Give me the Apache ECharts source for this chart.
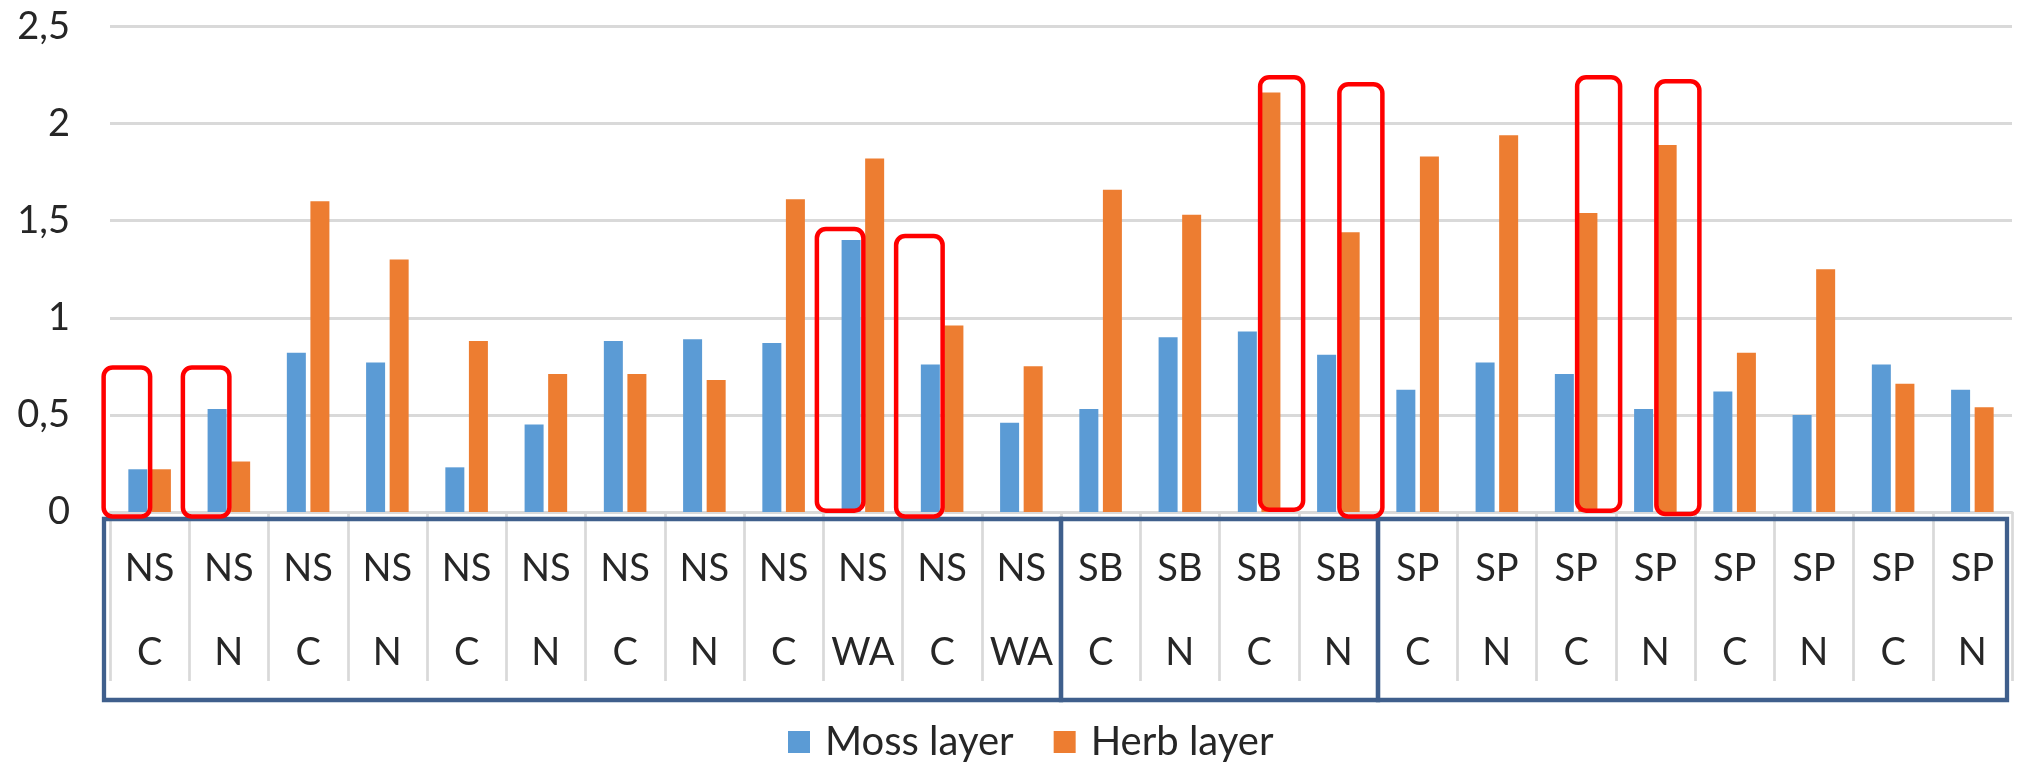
<!DOCTYPE html>
<html>
<head>
<meta charset="utf-8">
<script src="https://cdn.jsdelivr.net/npm/echarts@6/dist/echarts.min.js"></script>
<style>
html,body{margin:0;padding:0;background:#fff;}
#chart{width:2017px;height:769px;}
</style>
</head>
<body>
<div id="chart"></div>
<script>
// ---- data ----
const sites = ['NS','NS','NS','NS','NS','NS','NS','NS','NS','NS','NS','NS','SB','SB','SB','SB','SP','SP','SP','SP','SP','SP','SP','SP'];
const types = ['C','N','C','N','C','N','C','N','C','WA','C','WA','C','N','C','N','C','N','C','N','C','N','C','N'];
const mossLayer = [0.22,0.53,0.82,0.77,0.23,0.45,0.88,0.89,0.87,1.40,0.76,0.46,0.53,0.90,0.93,0.81,0.63,0.77,0.71,0.53,0.62,0.50,0.76,0.63];
const herbLayer = [0.22,0.26,1.60,1.30,0.88,0.71,0.71,0.68,1.61,1.82,0.96,0.75,1.66,1.53,2.16,1.44,1.83,1.94,1.54,1.89,0.82,1.25,0.66,0.54];
const seriesNames = ['Moss layer','Herb layer'];
const yTicks = [0,0.5,1,1.5,2,2.5];
// site groups: [first category index, last category index]
const groupFrom = [0,12,16];
const groupTo = [11,15,23];
// highlighted bars: category index, series (0 moss, 1 herb), box top value, box bottom value
const hlCat = [0,1,9,10,14,15,18,19];
const hlSeries = [0,0,0,0,1,1,1,1];
const hlTop = [0.744,0.744,1.457,1.421,2.239,2.203,2.239,2.218];
const hlBottom = [-0.023,-0.023,0.007,-0.023,0.012,-0.023,0.007,-0.01];

const categories = sites.map((s,i)=>s+'\n'+types[i]);
const FONT = 'Lato';
const TXT = '#262626';

const chart = echarts.init(document.getElementById('chart'), null, {renderer:'canvas'});
const option = {
  animation:false,
  backgroundColor:'#ffffff',
  textStyle:{fontFamily:FONT},
  grid:{left:110,right:5,top:26.5,bottom:257,containLabel:false,outerBoundsMode:'none'},
  legend:{
    data:seriesNames,
    left:788, top:722, padding:0,
    itemWidth:22,itemHeight:22,itemGap:40,
    icon:'rect',
    textStyle:{fontFamily:FONT,fontSize:40,color:TXT,padding:[0,0,0,10]}
  },
  xAxis:{
    type:'category',
    data:categories,
    boundaryGap:true,
    axisLine:{show:true,lineStyle:{color:'#D9D9D9',width:3}},
    axisTick:{show:true,interval:0,alignWithLabel:false,length:169,lineStyle:{color:'#D9D9D9',width:2.7}},
    axisLabel:{interval:0,margin:15,fontFamily:FONT,fontSize:38,color:TXT,lineHeight:83.5},
    splitLine:{show:false}
  },
  yAxis:{
    type:'value',
    min:yTicks[0],max:yTicks[yTicks.length-1],interval:0.5,
    axisLine:{show:false},axisTick:{show:false},
    axisLabel:{margin:40,fontFamily:FONT,fontSize:38,color:TXT,
      formatter:v=>String(v).replace('.',',')},
    splitLine:{show:true,lineStyle:{color:'#D9D9D9',width:3}}
  },
  series:[
    {name:seriesNames[0],type:'bar',data:mossLayer,barWidth:19,barGap:'24%',itemStyle:{color:'#5B9BD5'},z:2},
    {name:seriesNames[1],type:'bar',data:herbLayer,barWidth:19,barGap:'24%',itemStyle:{color:'#ED7D31'},z:2},
    {
      name:'groups',type:'custom',clip:false,z:5,silent:true,
      data:groupFrom.map((f,i)=>[f,groupTo[i]]),
      renderItem:(params,api)=>{
        const band = api.size([1,0])[0];
        const a = api.coord([api.value(0),0]);
        const b = api.coord([api.value(1),0]);
        let x0 = a[0]-band/2, x1 = b[0]+band/2;
        if (params.dataIndex===0) x0 -= 6;
        if (params.dataIndex===params.dataInsideLength-1) x1 -= 5;
        const y0 = a[1]+7, y1 = a[1]+188;
        return {type:'rect',shape:{x:x0,y:y0,width:x1-x0,height:y1-y0},
          style:{fill:null,stroke:'#3F5F8C',lineWidth:4.3}};
      }
    },
    {
      name:'highlights',type:'custom',clip:false,z:6,silent:true,
      data:hlCat.map((c,i)=>[c,hlSeries[i],hlTop[i],hlBottom[i]]),
      renderItem:(params,api)=>{
        const cat = api.value(0), side = api.value(1);
        const t = api.coord([cat,api.value(2)]);
        const bt = api.coord([cat,api.value(3)]);
        const x0 = side===0 ? t[0]-46 : t[0]+1;
        const w = side===0 ? 46.5 : 43;
        return {type:'rect',shape:{x:x0,y:t[1],width:w,height:bt[1]-t[1],r:9},
          style:{fill:null,stroke:'#FF0000',lineWidth:4.5}};
      }
    }
  ]
};
chart.setOption(option);
</script>
</body>
</html>
